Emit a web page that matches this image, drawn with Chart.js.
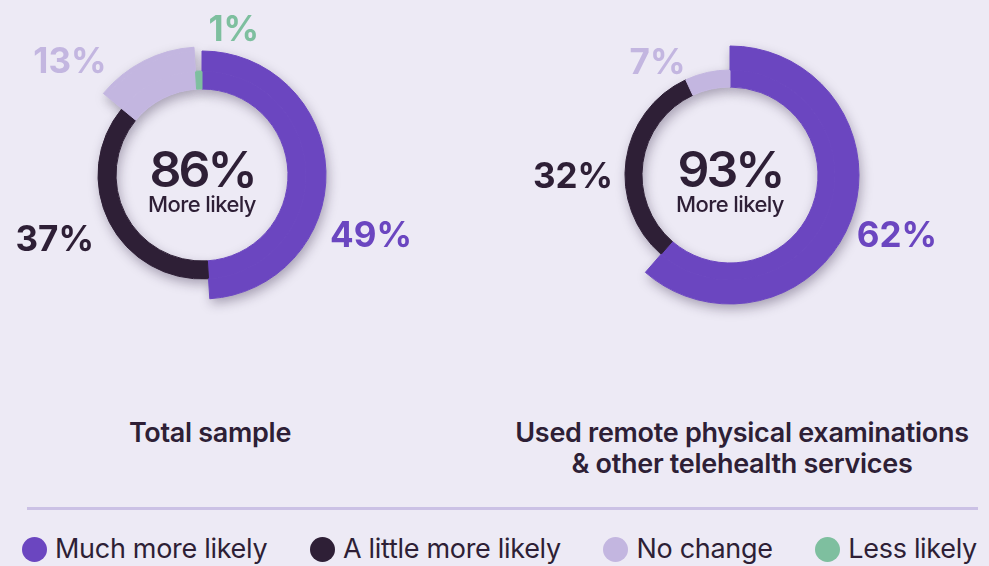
<!DOCTYPE html>
<html>
<head>
<meta charset="utf-8">
<script src="https://cdn.jsdelivr.net/npm/chart.js@4.4.1/dist/chart.umd.min.js"></script>
<style>
  html, body { margin: 0; padding: 0; background: #edeaf5; }
  body { width: 989px; height: 566px; position: relative; overflow: hidden;
         font-family: Inter, 'Noto Sans', sans-serif; color: #2e1f36; }
  #c1 { position: absolute; left: 0; top: 0; }
  #c2 { position: absolute; left: 500px; top: 0; }
  .title { position: absolute; top: 417px; font-size: 27px; font-weight: 600; line-height: 31px;
           text-align: center; letter-spacing: -0.3px; white-space: nowrap; }
  #t1 { left: 60px; width: 300px; }
  #t2 { left: 492px; width: 500px; }
  .divider { position: absolute; left: 27px; width: 951px; top: 507px; height: 3px; background: #cbc1e5; }
  #legend { position: absolute; left: 22px; right: 12px; top: 535px; display: flex;
            justify-content: space-between; font-size: 27px; letter-spacing: -0.3px; }
  .item { display: flex; align-items: center; gap: 8px; line-height: 28px; }
  .dot { width: 25px; height: 25px; border-radius: 50%; }
</style>
</head>
<body>
<canvas id="c1" width="440" height="340"></canvas>
<canvas id="c2" width="489" height="340"></canvas>
<div class="title" id="t1"></div>
<div class="title" id="t2"></div>
<div class="divider"></div>
<div id="legend"></div>

<script>
// data
const categories = ['Much more likely', 'A little more likely', 'No change', 'Less likely'];
const totalSample = [49, 37, 13, 1];
const remoteExams = [62, 32, 7, 0];
const moreLikely = [86, 93];
const titles = [['Total sample'], ['Used remote physical examinations', '& other telehealth services']];

const colors = ['#6b46c0', '#2e1f36', '#c3b6e0', '#7ebf9f'];
const bg = '#edeaf5';

// rings from the outside in, which segments reach that ring
const rings1 = [
  { weight: 4,  show: [0, 0, 1, 0] },
  { weight: 20, show: [1, 0, 1, 0] },
  { weight: 18, show: [1, 1, 1, 1] }
];
const rings2 = [
  { weight: 24, show: [1, 0, 0, 0] },
  { weight: 17, show: [1, 1, 1, 1] }
];

// label nudges: [degrees, extra px]
const nudge1 = [[21, 5], [4, 6], [-22, -3], [14, -4]];
const nudge2 = [[-1, -2], [-8, 2], [-20, -20], [0, 0]];

function buildDatasets(values, rings) {
  return rings.map(r => ({
    data: values,
    weight: r.weight,
    backgroundColor: values.map((v, i) => r.show[i] ? colors[i] : 'transparent'),
    borderColor: values.map((v, i) => (r.show[i] && v > 0) ? colors[i] : 'transparent'),
    borderWidth: 1
  }));
}

const ringShadow = {
  id: 'ringShadow',
  beforeDatasetsDraw(chart) {
    const ctx = chart.ctx;
    ctx.save();
    ctx.shadowColor = 'rgba(35, 20, 55, 0.35)';
    ctx.shadowBlur = 12;
    ctx.shadowOffsetX = 2;
    ctx.shadowOffsetY = 5;
    ctx.fillStyle = bg;
    chart.data.datasets.forEach((ds, d) => {
      chart.getDatasetMeta(d).data.forEach((arc, i) => {
        if (ds.backgroundColor[i] === 'transparent' || !ds.data[i]) return;
        const p = arc.getProps(['x', 'y', 'startAngle', 'endAngle', 'innerRadius', 'outerRadius'], true);
        ctx.beginPath();
        ctx.arc(p.x, p.y, p.outerRadius, p.startAngle, p.endAngle);
        ctx.arc(p.x, p.y, p.innerRadius, p.endAngle, p.startAngle, true);
        ctx.closePath();
        ctx.fill();
      });
    });
    ctx.restore();
  }
};

const ringLabels = {
  id: 'ringLabels',
  afterDatasetsDraw(chart, args, opts) {
    const ctx = chart.ctx;
    const rings = opts.rings;
    const values = chart.data.datasets[0].data;
    ctx.save();
    ctx.font = 'bold 35px Inter';
    ctx.textAlign = 'center';
    ctx.textBaseline = 'alphabetic';
    values.forEach((v, i) => {
      if (!v) return;
      const r = rings.findIndex(ring => ring.show[i]);
      const p = chart.getDatasetMeta(r).data[i].getProps(['x', 'y', 'startAngle', 'endAngle', 'outerRadius'], true);
      const a = (p.startAngle + p.endAngle) / 2 + opts.nudge[i][0] * Math.PI / 180;
      const dist = p.outerRadius + 50 + opts.nudge[i][1];
      ctx.fillStyle = colors[i];
      ctx.fillText(v + '%', p.x + Math.cos(a) * dist, p.y + Math.sin(a) * dist + 13);
    });
    // centre text
    const c = chart.getDatasetMeta(0).data[0];
    ctx.fillStyle = '#2e1f36';
    ctx.font = '600 50px Inter';
    ctx.letterSpacing = '-3px';
    ctx.fillText(opts.center + '%', c.x, c.y + 12);
    ctx.font = '500 22px Inter';
    ctx.letterSpacing = '-0.6px';
    ctx.fillText('More likely', c.x, c.y + 37);
    ctx.restore();
  }
};

function makeChart(id, values, rings, radius, hole, padding, nudge, center) {
  new Chart(document.getElementById(id), {
    type: 'doughnut',
    data: { labels: categories, datasets: buildDatasets(values, rings) },
    options: {
      responsive: false,
      animation: false,
      radius: radius,
      cutout: (hole / radius * 100) + '%',
      layout: { padding: padding },
      plugins: {
        legend: { display: false },
        tooltip: { enabled: false },
        ringLabels: { rings: rings, nudge: nudge, center: center }
      }
    },
    plugins: [ringShadow, ringLabels]
  });
}

makeChart('c1', totalSample, rings1, 128, 86, { left: 0, right: 36, top: 10, bottom: 0 }, nudge1, moreLikely[0]);
makeChart('c2', remoteExams, rings2, 129, 88, { left: 0, right: 29, top: 10, bottom: 0 }, nudge2, moreLikely[1]);

document.getElementById('t1').innerHTML = titles[0].join('<br>');
document.getElementById('t2').innerHTML = titles[1].join('<br>');

const legend = document.getElementById('legend');
categories.forEach((name, i) => {
  const item = document.createElement('div');
  item.className = 'item';
  item.innerHTML = '<span class="dot" style="background:' + colors[i] + '"></span><span>' + name + '</span>';
  legend.appendChild(item);
});
</script>
</body>
</html>
